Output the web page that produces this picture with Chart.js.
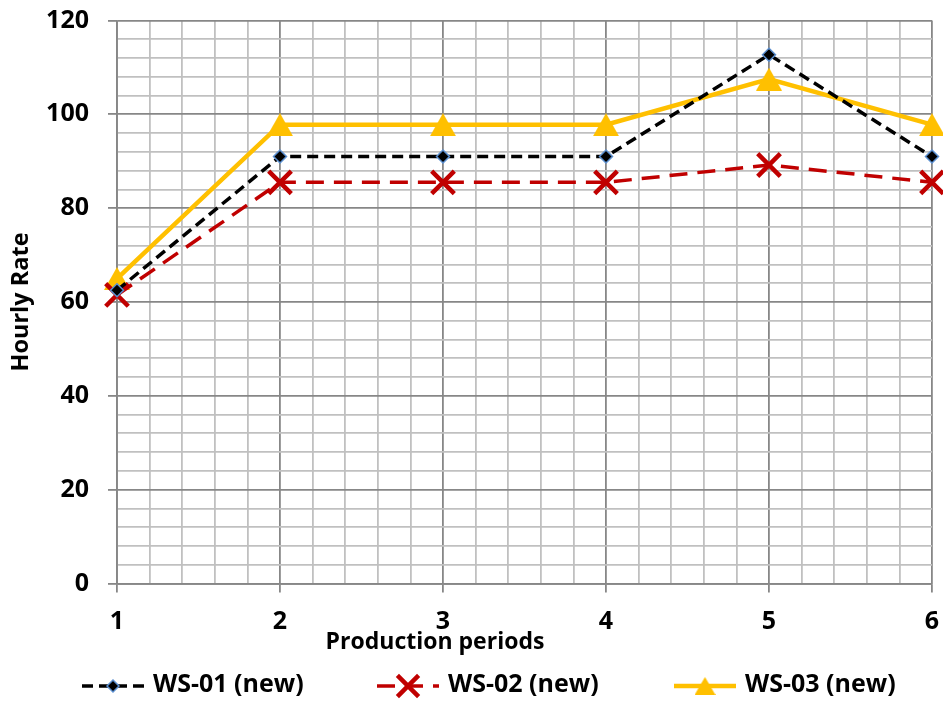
<!DOCTYPE html>
<html><head><meta charset="utf-8">
<script src="https://cdn.jsdelivr.net/npm/chart.js@4.4.1/dist/chart.umd.min.js"></script>
<style>html,body{margin:0;padding:0;background:#fff}#wrap{width:943px;height:701px}</style>
</head><body><div id="wrap"><canvas id="c" width="943" height="701"></canvas></div>
<script>
const periods = [1, 2, 3, 4, 5, 6];
const seriesNames = ['WS-01 (new)', 'WS-02 (new)', 'WS-03 (new)'];
const ws01 = [62.5, 91, 91, 91, 112.7, 91];
const ws02 = [61.5, 85.5, 85.5, 85.5, 89.2, 85.5];
const ws03 = [65, 97.8, 97.8, 97.8, 107.5, 97.8];
const yTickLabels = [0, 20, 40, 60, 80, 100, 120];
const xTitle = 'Production periods';
const yTitle = 'Hourly Rate';

const FONT = '"Open Sans", sans-serif';
const toPts = arr => periods.map((p, i) => ({x: p, y: arr[i]}));
const isInt = v => Math.abs(v - Math.round(v)) < 1e-6;
const isMajorY = v => yTickLabels.some(t => Math.abs(t - v) < 1e-6);
const MAJOR = '#878787', MINOR = '#c0c0c0';
const YELLOW = '#ffc000';

// triangle marker centred on its bounding box (like Excel)
function triangleImage(w, color) {
  const h = Math.round(w * 0.88);
  const cv = document.createElement('canvas');
  cv.width = w; cv.height = h;
  const c = cv.getContext('2d');
  c.fillStyle = color;
  c.beginPath(); c.moveTo(w / 2, 0); c.lineTo(w, h); c.lineTo(0, h); c.closePath(); c.fill();
  return cv;
}
const triPlot = triangleImage(26, YELLOW);
const triLegend = triangleImage(21, YELLOW);

const legendPlugin = {
  id: 'excelLegend',
  afterDraw(chart) {
    const ctx = chart.ctx;
    ctx.save();
    ctx.font = 'bold 23px ' + FONT;
    ctx.fillStyle = '#000';
    ctx.textAlign = 'center';
    ctx.textBaseline = 'middle';
    ctx.fillText(xTitle, 435, 642);
    const starts = [82, 377, 674];
    const legendRadius = [6, 15, 12];
    const legendStyle = [null, null, triLegend];
    chart.data.datasets.forEach((ds, i) => {
      const x0 = starts[i], y = 686, len = 62;
      ctx.save();
      ctx.strokeStyle = ds.borderColor;
      ctx.lineWidth = ds.borderWidth;
      ctx.setLineDash(ds.borderDash || []);
      ctx.beginPath(); ctx.moveTo(x0, y); ctx.lineTo(x0 + len, y); ctx.stroke();
      ctx.setLineDash([]);
      ctx.fillStyle = ds.pointBackgroundColor;
      ctx.strokeStyle = ds.pointBorderColor;
      ctx.lineWidth = ds.pointBorderWidth;
      Chart.helpers.drawPoint(ctx, {pointStyle: legendStyle[i] || ds.pointStyle, radius: legendRadius[i], borderWidth: ds.pointBorderWidth, rotation: 0}, x0 + len / 2, y);
      ctx.restore();
      ctx.font = 'bold 25px ' + FONT;
      ctx.fillStyle = '#000';
      ctx.textAlign = 'left';
      ctx.textBaseline = 'middle';
      ctx.fillText(ds.label, x0 + len + 9, y - 1);
    });
    ctx.restore();
  }
};

new Chart(document.getElementById('c'), {
  type: 'line',
  data: {
    datasets: [
      {label: seriesNames[0], data: toPts(ws01), borderColor: '#000000', borderWidth: 3.5, borderDash: [11, 6],
       pointStyle: 'rectRot', pointRadius: 6.5, pointBackgroundColor: '#000000', pointBorderColor: '#5b8fd0', pointBorderWidth: 1.5, clip: false},
      {label: seriesNames[1], data: toPts(ws02), borderColor: '#c00000', borderWidth: 3.5, borderDash: [18, 10],
       pointStyle: 'crossRot', pointRadius: 16, pointBackgroundColor: '#c00000', pointBorderColor: '#c00000', pointBorderWidth: 4.5, clip: false},
      {label: seriesNames[2], data: toPts(ws03), borderColor: YELLOW, borderWidth: 4.5,
       pointStyle: triPlot, pointRadius: 14, pointBackgroundColor: YELLOW, pointBorderColor: YELLOW, pointBorderWidth: 1, clip: false}
    ]
  },
  options: {
    responsive: false,
    animation: false,
    devicePixelRatio: 1,
    layout: {padding: 0, autoPadding: false},
    plugins: {legend: {display: false}, tooltip: {enabled: false}},
    elements: {line: {tension: 0}},
    scales: {
      x: {
        type: 'linear', min: 1, max: 6,
        afterFit: s => { s.height = 117.5; s.paddingLeft = 0; s.paddingRight = 11; },
        ticks: {stepSize: 0.2, autoSkip: false, maxRotation: 0, padding: 14, color: '#000',
          font: {family: FONT, size: 25, weight: 'bold'},
          callback: v => isInt(v) ? String(Math.round(v)) : ''},
        grid: {
          color: c => isInt(c.tick.value) ? MAJOR : MINOR,
          lineWidth: 1.8,
          tickColor: c => isInt(c.tick.value) ? MAJOR : 'rgba(0,0,0,0)',
          tickLength: 9
        },
        border: {color: MAJOR, width: 1.8}
      },
      y: {
        min: 0, max: 120,
        afterFit: s => { s.width = 117; s.paddingTop = 20.5; s.paddingBottom = 0; },
        ticks: {stepSize: 4, autoSkip: false, padding: 19, color: '#000',
          font: {family: FONT, size: 25, weight: 'bold'},
          callback: v => isMajorY(v) ? String(v) : ''},
        grid: {
          color: c => isMajorY(c.tick.value) ? MAJOR : MINOR,
          lineWidth: 1.8,
          tickColor: c => isMajorY(c.tick.value) ? MAJOR : 'rgba(0,0,0,0)',
          tickLength: 9
        },
        border: {color: MAJOR, width: 1.8},
        title: {display: true, text: yTitle, color: '#000', font: {family: FONT, size: 23.5, weight: 'bold'}, padding: {top: 7, bottom: 0}}
      }
    }
  },
  plugins: [legendPlugin]
});
</script></body></html>
